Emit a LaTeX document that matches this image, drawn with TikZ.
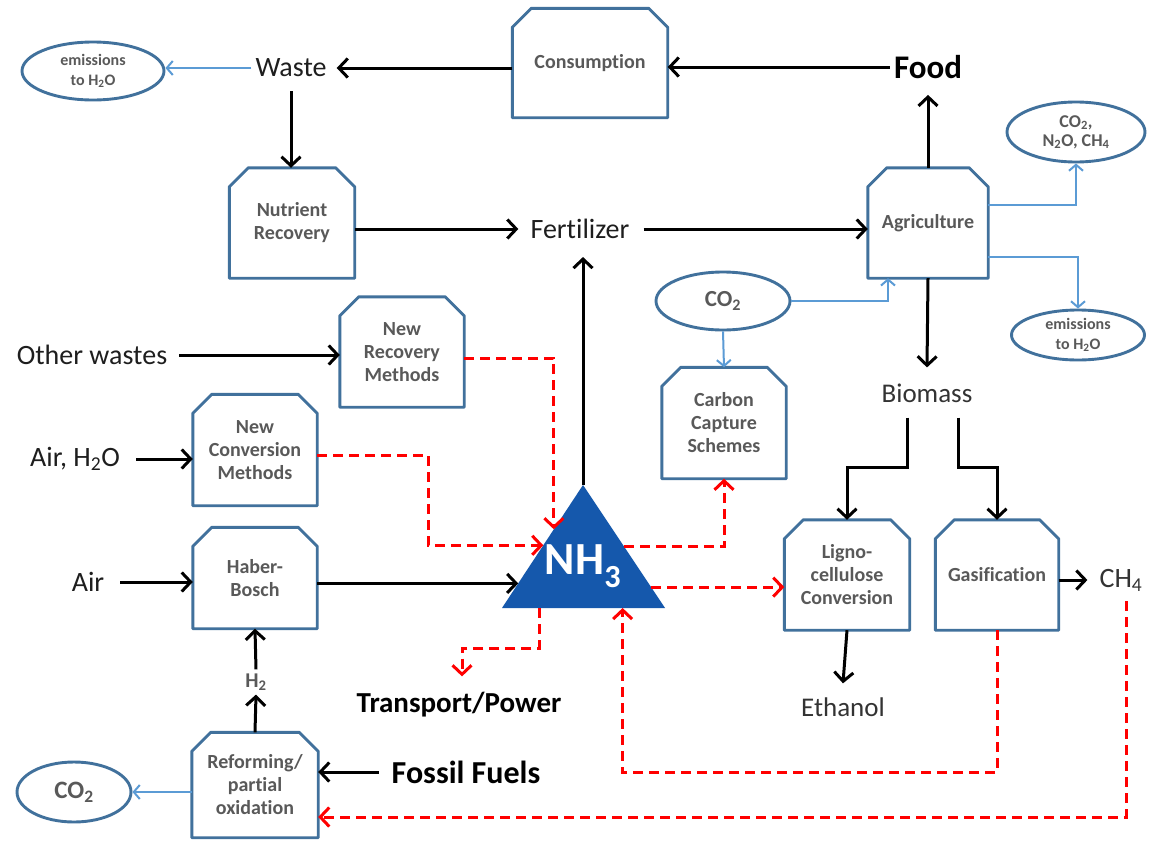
\documentclass[tikz,border=0pt]{standalone}
\usepackage{fontspec}
\setmainfont{Carlito}[Ligatures=NoCommon]
\usetikzlibrary{arrows.meta,shapes.geometric,calc}

\definecolor{frameblue}{HTML}{41719C}
\definecolor{flowblue}{HTML}{5B9BD5}
\definecolor{labelgray}{HTML}{595959}
\definecolor{ammonia}{HTML}{1558AC}
\definecolor{ink}{HTML}{1E1E1E}
\definecolor{softink}{HTML}{333333}

\tikzset{
  proc/.style={rectangle, inner sep=0pt, align=center, text=labelgray,
    font=\fontsize{20}{23}\selectfont\bfseries},
  frame/.style={draw=frameblue, line width=2.9pt, line join=round},
  ell/.style={ellipse, draw=frameblue, line width=2.9pt, inner sep=0pt, align=center,
    text=labelgray, font=\fontsize{23}{26}\selectfont\bfseries},
  ellsmall/.style={ell, font=\fontsize{16}{20}\selectfont\bfseries},
  big/.style={inner sep=4pt, text=ink, font=\fontsize{28}{32}\selectfont},
  bigsoft/.style={inner sep=4pt, text=softink, font=\fontsize{27}{31}\selectfont},
  bigbold/.style={inner sep=4pt, text=black, font=\fontsize{33}{38}\selectfont\bfseries},
  midbold/.style={inner sep=4pt, text=black, font=\fontsize{29}{34}\selectfont\bfseries},
  small/.style={inner sep=4pt, text=labelgray, font=\fontsize{21}{24}\selectfont\bfseries},
  blk/.style={draw=black, line width=3pt, -{Straight Barb[length=9pt,width=19pt]}},
  bflow/.style={draw=flowblue, line width=2pt, -{Straight Barb[length=6pt,width=14pt]}},
  rdash/.style={draw=red, line width=3pt, dash pattern=on 10pt off 6pt,
    -{Straight Barb[length=9pt,width=19pt]}}
}

% outline of a process box: rectangle with its two top corners cut off
\newcommand\procframe[1]{\draw[frame] ([yshift=-19pt]#1.north west) -- ([xshift=19pt]#1.north west)
  -- ([xshift=-19pt]#1.north east) -- ([yshift=-19pt]#1.north east) -- (#1.south east)
  -- (#1.south west) -- cycle;}

\begin{document}
\begin{tikzpicture}[x=1pt,y=-1pt]
\fill[white] (0,0) rectangle (1149,841);
\useasboundingbox (0,0) rectangle (1149,841);

% process boxes
\node[proc, minimum width=155pt, minimum height=109pt] (cons) at (590,63) {Consumption};
\node[proc, minimum width=125pt, minimum height=110pt] (nutr) at (292,223) {Nutrient\\Recovery};
\node[proc, minimum width=120pt, minimum height=110pt] (agri) at (928,223) {Agriculture};
\node[proc, minimum width=124pt, minimum height=110pt] (nrec) at (402,352) {New\\Recovery\\Methods};
\node[proc, minimum width=124pt, minimum height=111pt] (ccs) at (724,423) {Carbon\\Capture\\Schemes};
\node[proc, minimum width=124pt, minimum height=111pt] (nconv) at (255,450) {New\\Conversion\\Methods};
\node[proc, minimum width=124pt, minimum height=101pt] (haber) at (255,578) {Haber-\\Bosch};
\node[proc, minimum width=125pt, minimum height=110pt] (ligno) at (847,575) {Ligno-\\cellulose\\Conversion};
\node[proc, minimum width=123pt, minimum height=110pt] (gas) at (997,575) {Gasification};
\node[proc, minimum width=126pt, minimum height=105pt] (refm) at (255,785) {Reforming/\\partial\\oxidation};
\foreach \b in {cons,nutr,agri,nrec,ccs,nconv,haber,ligno,gas,refm} {\procframe{\b}}

% emission ellipses
\node[ellsmall, minimum width=142pt, minimum height=58pt] (emisW) at (93,71) {emissions\\to H\textsubscript{2}O};
\node[ellsmall, font=\fontsize{18}{19}\selectfont\bfseries, minimum width=138pt, minimum height=60pt] (ghg) at (1076,132) {CO\textsubscript{2},\\N\textsubscript{2}O, CH\textsubscript{4}};
\node[ellsmall, minimum width=133pt, minimum height=50pt] (emisA) at (1078,335) {emissions\\to H\textsubscript{2}O};
\node[ell, minimum width=134pt, minimum height=58pt] (co2a) at (723,301) {CO\textsubscript{2}};
\node[ell, font=\fontsize{25}{28}\selectfont\bfseries, minimum width=114pt, minimum height=60pt] (co2b) at (74,792) {CO\textsubscript{2}};

% ammonia hub
\coordinate (apex) at (583,485);
\coordinate (bl) at (502,608);
\coordinate (br) at (665,608);
\fill[ammonia] (apex) -- (br) -- (bl) -- cycle;
\node[inner sep=0pt, text=white, font=\fontsize{46}{50}\selectfont\bfseries] (nh3) at (583,566) {NH\textsubscript{3}};

% stream labels
\node[big] (waste) at (291,68) {Waste};
\node[bigbold] (food) at (928,67) {Food};
\node[big] (fert) at (580,229) {Fertilizer};
\node[bigsoft] (bio) at (927,393) {Biomass};
\node[big] (other) at (92,355) {Other wastes};
\node[big] (airw) at (75,459) {Air, H\textsubscript{2}O};
\node[big] (air) at (88,582) {Air};
\node[bigsoft, font=\fontsize{28}{32}\selectfont] (ch4) at (1121,580) {CH\textsubscript{4}};
\node[bigsoft] (eth) at (843,707) {Ethanol};
\node[small] (h2) at (256,682) {H\textsubscript{2}};
\node[bigbold, font=\fontsize{32}{36}\selectfont\bfseries] (fossil) at (466,772) {Fossil Fuels};
\node[midbold] (trans) at (459,705) {Transport/Power};

% food, waste and fertilizer loop
\draw[blk] (food.west) -- (food.west -| cons.east);
\draw[blk] (cons.west |- waste.east) -- ([xshift=6pt]waste.east);
\draw[bflow] (waste.west) -- (waste.west -| emisW.east);
\draw[blk] ([yshift=-10pt]waste.south) -- (waste.south |- nutr.north);
\draw[blk] (nutr.east |- fert.west) -- ([xshift=-8pt]fert.west);
\draw[blk] ([xshift=10pt]fert.east) -- (fert.east -| agri.west);
\draw[blk] (apex) -- ([yshift=-14pt]apex |- fert.south);
\draw[blk] (agri.north) -- ([yshift=-12pt]food.south);
\draw[blk] (agri.south) -- ([yshift=12pt]bio.north);

% agriculture emissions and carbon
\draw[bflow] ([yshift=18pt]agri.east) -| (ghg.south);
\draw[bflow] ([yshift=-34pt]agri.east) -| (emisA.north);
\draw[bflow] (co2a.south) -- (ccs.north);
\draw[bflow] (co2a.east) -| ([xshift=-40pt]agri.south);

% biomass routes
\draw[blk] ([xshift=-20pt,yshift=-11pt]bio.south) -- ++(0,50) -| (ligno.north);
\draw[blk] ([xshift=31pt,yshift=-11pt]bio.south) -- ++(0,50) -| (gas.north);
\draw[blk] (gas.east |- ch4.west) -- ([xshift=-8pt]ch4.west);
\draw[blk] (ligno.south) -- ([yshift=10pt]eth.north);

% feeds on the left
\draw[blk] ([xshift=8pt]other.east) -- (other.east -| nrec.west);
\draw[blk] ([xshift=12pt]airw.east) -- (airw.east -| nconv.west);
\draw[blk] ([xshift=12pt]air.east) -- (air.east -| haber.west);
\draw[blk] (refm.north) -- (h2.south);
\draw[blk] (h2.north) -- (haber.south);
\draw[blk] ([xshift=-9pt]fossil.west) -- (fossil.west -| refm.east);
\draw[bflow] (refm.west |- co2b.east) -- (co2b.east);

% routes into and out of the ammonia hub
\coordinate (inR) at ($(apex)!0.36!(bl)$);
\coordinate (inC) at ($(apex)!0.49!(bl)$);
\coordinate (inH) at ($(apex)!0.80!(bl)$);
\coordinate (outC) at ($(apex)!0.50!(br)$);
\coordinate (outL) at ($(apex)!0.83!(br)$);
\coordinate (botT) at ($(bl)!0.23!(br)$);
\coordinate (botG) at ($(bl)!0.74!(br)$);

\draw[blk] (haber.east |- inH) -- (inH);
\draw[rdash] ([yshift=-6pt]nrec.east) -| (inR);
\draw[rdash] ([yshift=-5pt]nconv.east) -- ++(111,0) |- (inC);
\draw[rdash] (outC) -| (ccs.south);
\draw[rdash] (outL) -- (outL -| ligno.west);
\draw[rdash] (botT) -- ++(0,40) -| ([xshift=3pt,yshift=12pt]trans.north);
\draw[rdash] (gas.south) -- ++(0,142) -| (botG);
\draw[rdash] ([xshift=5pt,yshift=-6pt]ch4.south) |- ([yshift=-32pt]refm.east);
\end{tikzpicture}
\end{document}
